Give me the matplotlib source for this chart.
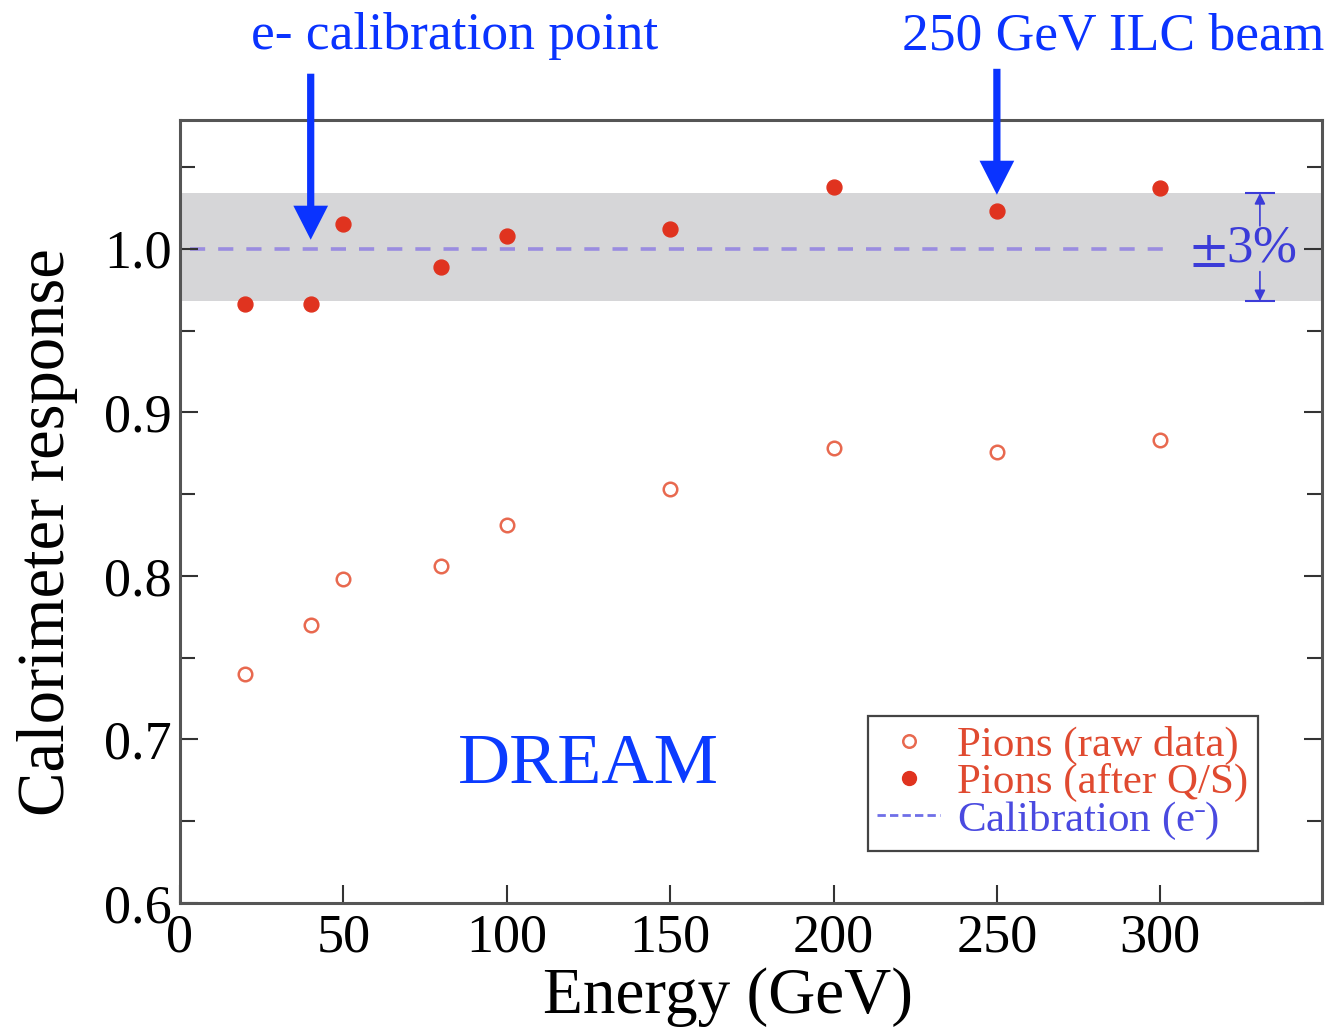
import matplotlib
matplotlib.use("Agg")
import matplotlib.pyplot as plt
from matplotlib.ticker import MultipleLocator
from matplotlib.lines import Line2D

plt.rcParams['font.family'] = ['Liberation Serif', 'DejaVu Serif']
plt.rcParams['mathtext.fontset'] = 'stix'

# Data
energy = [20, 40, 50, 80, 100, 150, 200, 250, 300]
raw_response = [0.740, 0.770, 0.798, 0.806, 0.831, 0.853, 0.878, 0.876, 0.883]
qs_response = [0.966, 0.966, 1.015, 0.989, 1.008, 1.012, 1.038, 1.023, 1.037]
calib_level = 1.0
band_low, band_high = 0.968, 1.034
x_ticks = [0, 50, 100, 150, 200, 250, 300]
y_ticks = [0.6, 0.7, 0.8, 0.9, 1.0]

W, H = 1327, 1033
fig = plt.figure(figsize=(W / 100, H / 100), dpi=100)
ax = fig.add_axes([180 / W, 1 - 903 / H, (1322 - 180) / W, (903 - 120) / H])

ax.set_xlim(0, 349.5)
ax.set_ylim(0.6, 1.0787)

ax.axhspan(band_low, band_high, color='#d6d6d8', zorder=0, lw=0)
ax.hlines(calib_level, 3, 302, colors='#9a8ce0', linestyles=(0, (4.2, 3.6)), lw=2.6, zorder=1)

ax.scatter(energy, raw_response, s=95, facecolors='white', edgecolors='#e8694f', linewidths=1.8, zorder=3)
ax.scatter(energy, qs_response, s=115, color='#e0331f', zorder=3)

# Legend (manual proxies)
h1 = Line2D([], [], ls='none', marker='o', ms=9, mfc='white', mec='#e8694f', mew=1.8)
h2 = Line2D([], [], ls='none', marker='o', ms=10, color='#e0331f')
h3 = Line2D([], [], ls=(0, (3, 1.5)), color='#6f6fe8', lw=2)
leg = ax.legend([h1, h2, h3], ['Pions (raw data)', 'Pions (after Q/S)', 'Calibration (e$^{\\bar{\\ }}$)'],
                loc='upper left', bbox_to_anchor=((868 - 180) / (1322 - 180), 1 - (716 - 120) / (903 - 120)),
                fontsize=31, frameon=True, fancybox=False, framealpha=1, edgecolor='#444444',
                handlelength=1.45, handletextpad=0.4, labelspacing=-0.05, borderpad=0.22, borderaxespad=0)
leg.get_frame().set_linewidth(1.6)
for t, c in zip(leg.get_texts(), ['#e04a30', '#e04a30', '#4a4ae0']):
    t.set_color(c)

ax.set_xticks(x_ticks)
ax.set_yticks(y_ticks)
ax.yaxis.set_minor_locator(MultipleLocator(0.05))
ax.set_xticklabels([str(v) for v in x_ticks])
ax.set_yticklabels([f'{v:.1f}' for v in y_ticks])
ax.tick_params(axis='both', which='major', direction='in', labelsize=39, length=13, width=1.5, color='#333333')
ax.tick_params(axis='y', which='both', left=True, right=True)
ax.tick_params(axis='y', which='minor', direction='in', length=11, width=1.5, color='#333333')
ax.tick_params(axis='x', which='major', pad=7)
ax.tick_params(axis='y', which='major', pad=6)
for s in ax.spines.values():
    s.set_linewidth(2.2)
    s.set_color('#555555')

ax.set_xlabel('Energy (GeV)', fontsize=47)
ax.set_ylabel('Calorimeter response', fontsize=48)
ax.xaxis.set_label_coords((728 - 180) / (1322 - 180), -(997 - 903) / (903 - 120))
ax.yaxis.set_label_coords(-(180 - 48) / (1322 - 180), 1 - (532 - 120) / (903 - 120))
ax.xaxis.label.set_va('center')
ax.yaxis.label.set_va('center')

# DREAM label
ax.text(125, 0.684, 'DREAM', color='#0b3bff', fontsize=52, ha='center', va='center')

# ±3% annotation
ax.text(325.5, calib_level, '$\\pm$3%', color='#3c3cd8', fontsize=38, ha='center', va='center', zorder=4)
ax.annotate('', xy=(330.5, band_high), xytext=(330.5, 1.014),
            arrowprops=dict(arrowstyle='-|>', color='#3c3cd8', lw=1.2, mutation_scale=16, shrinkA=0, shrinkB=0))
ax.annotate('', xy=(330.5, band_low), xytext=(330.5, 0.986),
            arrowprops=dict(arrowstyle='-|>', color='#3c3cd8', lw=1.2, mutation_scale=16, shrinkA=0, shrinkB=0))
ax.hlines([band_high, band_low], 326, 335, colors='#3c3cd8', lw=1.5, zorder=4)

# Top annotations
blue = '#0a33ff'
fig.text(455 / W, 1 - 36 / H, 'e- calibration point', color=blue, fontsize=38.5, ha='center', va='center')
fig.text(1113 / W, 1 - 36 / H, '250 GeV ILC beam', color=blue, fontsize=38.5, ha='center', va='center')
arrow_style = 'simple,tail_width=0.52,head_width=2.5,head_length=2.45'
ax.annotate('', xy=(40, 1.0055), xytext=(40, 1.107), annotation_clip=False,
            arrowprops=dict(arrowstyle=arrow_style, color=blue, lw=0, mutation_scale=10, shrinkA=0, shrinkB=0))
ax.annotate('', xy=(250, 1.033), xytext=(250, 1.110), annotation_clip=False,
            arrowprops=dict(arrowstyle=arrow_style, color=blue, lw=0, mutation_scale=10, shrinkA=0, shrinkB=0))

fig.savefig('out.png', dpi=100, facecolor='white')
